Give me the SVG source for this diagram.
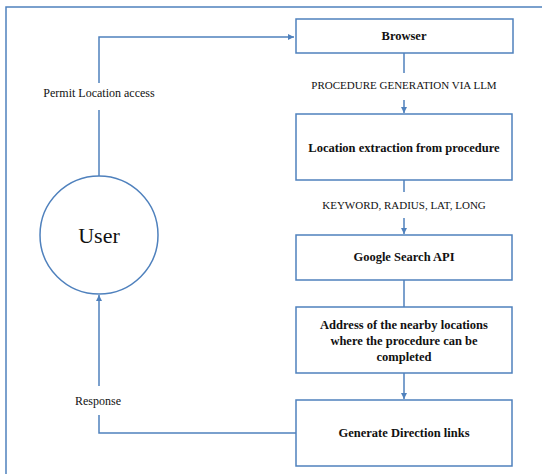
<svg xmlns="http://www.w3.org/2000/svg" width="542" height="474" viewBox="0 0 542 474">
<style>
.ln{fill:none;stroke:#4F81BD;stroke-width:1.5}
.bx{fill:#fff;stroke:#4F81BD;stroke-width:1.5}
.t{font-family:"Liberation Serif","DejaVu Serif",serif;fill:#111;text-anchor:middle}
.b{font-weight:bold;font-size:12.5px}
.l{font-size:11px}
.m{font-size:12px}
</style>
<defs>
<marker id="ar" viewBox="0 0 10 10" refX="10" refY="5" markerWidth="6" markerHeight="6" markerUnits="userSpaceOnUse" orient="auto"><path d="M0,0L10,5L0,10z" fill="#4F81BD"/></marker>
</defs>
<rect x="0" y="0" width="542" height="474" fill="#fff"/>
<rect x="6" y="7" width="600" height="520" class="ln"/>
<g id="connectors">
<path class="ln" d="M99,83V37H294" marker-end="url(#ar)"/>
<path class="ln" d="M99,176V110"/>
<path class="ln" d="M404,53V73"/>
<path class="ln" d="M404,100V113" marker-end="url(#ar)"/>
<path class="ln" d="M404,180V192"/>
<path class="ln" d="M404,218V234" marker-end="url(#ar)"/>
<path class="ln" d="M404,280V307"/>
<path class="ln" d="M404,373V399" marker-end="url(#ar)"/>
<path class="ln" d="M296,433H99V415"/>
<path class="ln" d="M99,386V295" marker-end="url(#ar)"/>
<text class="t m" x="99" y="97">Permit Location access</text>
<text class="t l" x="404" y="89">PROCEDURE GENERATION VIA LLM</text>
<text class="t l" x="404" y="209">KEYWORD, RADIUS, LAT, LONG</text>
<text class="t m" x="98" y="405">Response</text>
</g>
<g id="user">
<circle cx="99" cy="235" r="59" class="bx"/>
<text class="t" x="99" y="243" font-size="22">User</text>
</g>
<g id="browser">
<rect x="296" y="19" width="217" height="34" class="bx"/>
<text class="t b" x="404" y="40">Browser</text>
</g>
<g id="extract">
<rect x="296" y="114" width="216" height="66" class="bx"/>
<text class="t b" x="404" y="152">Location extraction from procedure</text>
</g>
<g id="google">
<rect x="296" y="235" width="216" height="45" class="bx"/>
<text class="t b" x="404" y="261">Google Search API</text>
</g>
<g id="address">
<rect x="296" y="307" width="216" height="66" class="bx"/>
<text class="t b" x="404" y="329">Address of the nearby locations</text>
<text class="t b" x="404" y="345">where the procedure can be</text>
<text class="t b" x="404" y="361">completed</text>
</g>
<g id="generate">
<rect x="296" y="400" width="216" height="66" class="bx"/>
<text class="t b" x="404" y="437">Generate Direction links</text>
</g>
</svg>
